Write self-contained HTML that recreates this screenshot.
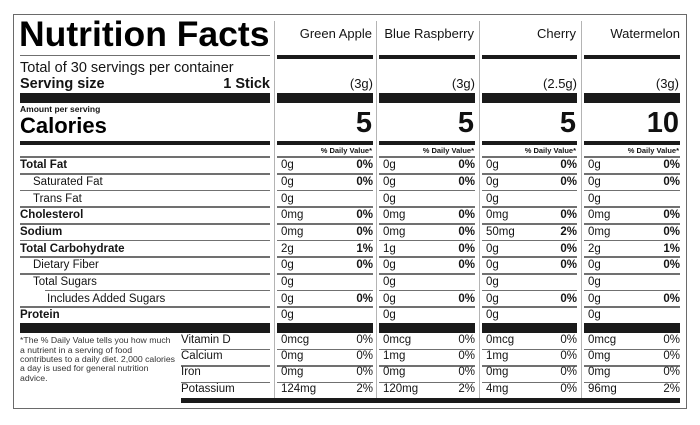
<!DOCTYPE html>
<html><head><meta charset="utf-8"><style>
*{margin:0;padding:0;box-sizing:border-box}
body{width:700px;height:425px;background:#fff;position:relative;overflow:hidden;font-family:"Liberation Sans",Arial,sans-serif;color:#141414}
.t{position:absolute;line-height:1;white-space:nowrap}
.bar{position:absolute;background:#1a1a1a}
.ln{position:absolute;height:1.5px;background:#707070}
.vs{position:absolute;width:1px;background:#b4b4b4;top:21px;height:377px}
.r{position:absolute;left:0;width:700px;height:12px;font-size:11.5px;line-height:1}
.r span{position:absolute;top:0;white-space:nowrap}
.b{font-weight:bold}
.p1{left:277px;width:96px;text-align:right}
.p2{left:379px;width:96px;text-align:right}
.p3{left:482px;width:95px;text-align:right}
.p4{left:584px;width:96px;text-align:right}
.v1{left:281px}.v2{left:383px}.v3{left:486px}.v4{left:588px}
.pb{font-weight:bold}
</style></head><body>
<div style="position:absolute;left:13px;top:14px;width:674px;height:395px;border:1.5px solid #6a6a6a"></div>

<!-- vertical separators -->
<div class="vs" style="left:273.5px"></div>
<div class="vs" style="left:376px"></div>
<div class="vs" style="left:478.5px"></div>
<div class="vs" style="left:580.5px"></div>

<!-- left header -->
<div class="t b" style="left:19px;top:17px;font-size:35.5px;color:#000">Nutrition Facts</div>
<div class="ln" style="left:20px;width:250px;top:54.5px"></div>
<div class="t" style="left:20px;top:61.3px;font-size:14.5px">Total of 30 servings per container</div>
<div class="t b" style="left:20px;top:76.8px;font-size:14.5px">Serving size</div>
<div class="t b" style="left:150px;width:120px;text-align:right;top:76.8px;font-size:14.5px">1 Stick</div>
<div class="bar" style="left:20px;width:250px;top:93px;height:10px"></div>
<div class="t b" style="left:20px;top:105.3px;font-size:8.5px">Amount per serving</div>
<div class="t b" style="left:20px;top:115.4px;font-size:22px;color:#000">Calories</div>
<div class="bar" style="left:20px;width:250px;top:141px;height:4px"></div>

<!-- column headers -->
<div class="t" style="left:277px;width:95px;text-align:right;top:27px;font-size:13px">Green Apple</div>
<div class="t" style="left:379px;width:95px;text-align:right;top:27px;font-size:13px">Blue Raspberry</div>
<div class="t" style="left:482px;width:94px;text-align:right;top:27px;font-size:13px">Cherry</div>
<div class="t" style="left:584px;width:96px;text-align:right;top:27px;font-size:13px">Watermelon</div>

<div class="bar" style="left:277px;width:96px;top:55px;height:4px"></div>
<div class="bar" style="left:379px;width:96px;top:55px;height:4px"></div>
<div class="bar" style="left:482px;width:95px;top:55px;height:4px"></div>
<div class="bar" style="left:584px;width:96px;top:55px;height:4px"></div>

<div class="t" style="left:277px;width:96px;text-align:right;top:77px;font-size:13px">(3g)</div>
<div class="t" style="left:379px;width:96px;text-align:right;top:77px;font-size:13px">(3g)</div>
<div class="t" style="left:482px;width:95px;text-align:right;top:77px;font-size:13px">(2.5g)</div>
<div class="t" style="left:584px;width:95px;text-align:right;top:77px;font-size:13px">(3g)</div>

<div class="bar" style="left:277px;width:96px;top:93px;height:10px"></div>
<div class="bar" style="left:379px;width:96px;top:93px;height:10px"></div>
<div class="bar" style="left:482px;width:95px;top:93px;height:10px"></div>
<div class="bar" style="left:584px;width:96px;top:93px;height:10px"></div>

<div class="t b" style="left:277px;width:95px;text-align:right;top:108.5px;font-size:29px;color:#111">5</div>
<div class="t b" style="left:379px;width:95px;text-align:right;top:108.5px;font-size:29px;color:#111">5</div>
<div class="t b" style="left:482px;width:94px;text-align:right;top:108.5px;font-size:29px;color:#111">5</div>
<div class="t b" style="left:584px;width:95px;text-align:right;top:108.5px;font-size:29px;color:#111">10</div>

<div class="bar" style="left:277px;width:96px;top:141px;height:4px"></div>
<div class="bar" style="left:379px;width:96px;top:141px;height:4px"></div>
<div class="bar" style="left:482px;width:95px;top:141px;height:4px"></div>
<div class="bar" style="left:584px;width:96px;top:141px;height:4px"></div>

<div class="t b" style="left:277px;width:95px;text-align:right;top:146.8px;font-size:7.5px">% Daily Value*</div>
<div class="t b" style="left:379px;width:95px;text-align:right;top:146.8px;font-size:7.5px">% Daily Value*</div>
<div class="t b" style="left:482px;width:94px;text-align:right;top:146.8px;font-size:7.5px">% Daily Value*</div>
<div class="t b" style="left:584px;width:95px;text-align:right;top:146.8px;font-size:7.5px">% Daily Value*</div>

<!-- row lines (left) -->
<div class="ln" style="left:20px;width:250px;top:156.3px"></div>
<div class="ln" style="left:20px;width:250px;top:173px"></div>
<div class="ln" style="left:20px;width:250px;top:189.6px"></div>
<div class="ln" style="left:20px;width:250px;top:206.3px"></div>
<div class="ln" style="left:20px;width:250px;top:223px"></div>
<div class="ln" style="left:20px;width:250px;top:239.6px"></div>
<div class="ln" style="left:20px;width:250px;top:256.3px"></div>
<div class="ln" style="left:20px;width:250px;top:273px"></div>
<div class="ln" style="left:45px;width:225px;top:289.6px"></div>
<div class="ln" style="left:20px;width:250px;top:306.3px"></div>

<!-- row lines (columns) -->
<div style="position:absolute;left:0;top:0">
<div class="ln" style="left:277px;width:96px;top:156.3px"></div><div class="ln" style="left:379px;width:96px;top:156.3px"></div><div class="ln" style="left:482px;width:95px;top:156.3px"></div><div class="ln" style="left:584px;width:96px;top:156.3px"></div>
<div class="ln" style="left:277px;width:96px;top:173px"></div><div class="ln" style="left:379px;width:96px;top:173px"></div><div class="ln" style="left:482px;width:95px;top:173px"></div><div class="ln" style="left:584px;width:96px;top:173px"></div>
<div class="ln" style="left:277px;width:96px;top:189.6px"></div><div class="ln" style="left:379px;width:96px;top:189.6px"></div><div class="ln" style="left:482px;width:95px;top:189.6px"></div><div class="ln" style="left:584px;width:96px;top:189.6px"></div>
<div class="ln" style="left:277px;width:96px;top:206.3px"></div><div class="ln" style="left:379px;width:96px;top:206.3px"></div><div class="ln" style="left:482px;width:95px;top:206.3px"></div><div class="ln" style="left:584px;width:96px;top:206.3px"></div>
<div class="ln" style="left:277px;width:96px;top:223px"></div><div class="ln" style="left:379px;width:96px;top:223px"></div><div class="ln" style="left:482px;width:95px;top:223px"></div><div class="ln" style="left:584px;width:96px;top:223px"></div>
<div class="ln" style="left:277px;width:96px;top:239.6px"></div><div class="ln" style="left:379px;width:96px;top:239.6px"></div><div class="ln" style="left:482px;width:95px;top:239.6px"></div><div class="ln" style="left:584px;width:96px;top:239.6px"></div>
<div class="ln" style="left:277px;width:96px;top:256.3px"></div><div class="ln" style="left:379px;width:96px;top:256.3px"></div><div class="ln" style="left:482px;width:95px;top:256.3px"></div><div class="ln" style="left:584px;width:96px;top:256.3px"></div>
<div class="ln" style="left:277px;width:96px;top:273px"></div><div class="ln" style="left:379px;width:96px;top:273px"></div><div class="ln" style="left:482px;width:95px;top:273px"></div><div class="ln" style="left:584px;width:96px;top:273px"></div>
<div class="ln" style="left:277px;width:96px;top:289.6px"></div><div class="ln" style="left:379px;width:96px;top:289.6px"></div><div class="ln" style="left:482px;width:95px;top:289.6px"></div><div class="ln" style="left:584px;width:96px;top:289.6px"></div>
<div class="ln" style="left:277px;width:96px;top:306.3px"></div><div class="ln" style="left:379px;width:96px;top:306.3px"></div><div class="ln" style="left:482px;width:95px;top:306.3px"></div><div class="ln" style="left:584px;width:96px;top:306.3px"></div>
</div>

<!-- rows -->
<div class="r" style="top:160.3px"><span class="b" style="left:20px">Total Fat</span>
<span class="v1">0g</span><span class="p1 pb">0%</span><span class="v2">0g</span><span class="p2 pb">0%</span><span class="v3">0g</span><span class="p3 pb">0%</span><span class="v4">0g</span><span class="p4 pb">0%</span></div>
<div class="r" style="top:177px"><span style="left:33px">Saturated Fat</span>
<span class="v1">0g</span><span class="p1 pb">0%</span><span class="v2">0g</span><span class="p2 pb">0%</span><span class="v3">0g</span><span class="p3 pb">0%</span><span class="v4">0g</span><span class="p4 pb">0%</span></div>
<div class="r" style="top:193.6px"><span style="left:33px">Trans Fat</span>
<span class="v1">0g</span><span class="v2">0g</span><span class="v3">0g</span><span class="v4">0g</span></div>
<div class="r" style="top:210.3px"><span class="b" style="left:20px">Cholesterol</span>
<span class="v1">0mg</span><span class="p1 pb">0%</span><span class="v2">0mg</span><span class="p2 pb">0%</span><span class="v3">0mg</span><span class="p3 pb">0%</span><span class="v4">0mg</span><span class="p4 pb">0%</span></div>
<div class="r" style="top:227px"><span class="b" style="left:20px">Sodium</span>
<span class="v1">0mg</span><span class="p1 pb">0%</span><span class="v2">0mg</span><span class="p2 pb">0%</span><span class="v3">50mg</span><span class="p3 pb">2%</span><span class="v4">0mg</span><span class="p4 pb">0%</span></div>
<div class="r" style="top:243.6px"><span class="b" style="left:20px">Total Carbohydrate</span>
<span class="v1">2g</span><span class="p1 pb">1%</span><span class="v2">1g</span><span class="p2 pb">0%</span><span class="v3">0g</span><span class="p3 pb">0%</span><span class="v4">2g</span><span class="p4 pb">1%</span></div>
<div class="r" style="top:260.3px"><span style="left:33px">Dietary Fiber</span>
<span class="v1">0g</span><span class="p1 pb">0%</span><span class="v2">0g</span><span class="p2 pb">0%</span><span class="v3">0g</span><span class="p3 pb">0%</span><span class="v4">0g</span><span class="p4 pb">0%</span></div>
<div class="r" style="top:277px"><span style="left:33px">Total Sugars</span>
<span class="v1">0g</span><span class="v2">0g</span><span class="v3">0g</span><span class="v4">0g</span></div>
<div class="r" style="top:293.6px"><span style="left:47px">Includes Added Sugars</span>
<span class="v1">0g</span><span class="p1 pb">0%</span><span class="v2">0g</span><span class="p2 pb">0%</span><span class="v3">0g</span><span class="p3 pb">0%</span><span class="v4">0g</span><span class="p4 pb">0%</span></div>
<div class="r" style="top:310.3px"><span class="b" style="left:20px">Protein</span>
<span class="v1">0g</span><span class="v2">0g</span><span class="v3">0g</span><span class="v4">0g</span></div>

<!-- thick bars before vitamins -->
<div class="bar" style="left:20px;width:250px;top:323px;height:10px"></div>
<div class="bar" style="left:277px;width:96px;top:323px;height:10px"></div>
<div class="bar" style="left:379px;width:96px;top:323px;height:10px"></div>
<div class="bar" style="left:482px;width:95px;top:323px;height:10px"></div>
<div class="bar" style="left:584px;width:96px;top:323px;height:10px"></div>

<!-- footnote -->
<div style="position:absolute;left:20px;top:336.4px;font-size:8.7px;line-height:9.3px;color:#333;white-space:nowrap">*The % Daily Value tells you how much<br>a nutrient in a serving of food<br>contributes to a daily diet. 2,000 calories<br>a day is used for general nutrition<br>advice.</div>

<!-- vitamin lines -->
<div class="ln" style="left:181px;width:89px;top:348.8px"></div>
<div class="ln" style="left:181px;width:89px;top:365.3px"></div>
<div class="ln" style="left:181px;width:89px;top:381.8px"></div>
<div class="ln" style="left:277px;width:96px;top:348.8px"></div><div class="ln" style="left:379px;width:96px;top:348.8px"></div><div class="ln" style="left:482px;width:95px;top:348.8px"></div><div class="ln" style="left:584px;width:96px;top:348.8px"></div>
<div class="ln" style="left:277px;width:96px;top:365.3px"></div><div class="ln" style="left:379px;width:96px;top:365.3px"></div><div class="ln" style="left:482px;width:95px;top:365.3px"></div><div class="ln" style="left:584px;width:96px;top:365.3px"></div>
<div class="ln" style="left:277px;width:96px;top:381.8px"></div><div class="ln" style="left:379px;width:96px;top:381.8px"></div><div class="ln" style="left:482px;width:95px;top:381.8px"></div><div class="ln" style="left:584px;width:96px;top:381.8px"></div>

<!-- vitamin rows -->
<div class="r" style="top:334.8px"><span style="left:181px">Vitamin D</span>
<span class="v1">0mcg</span><span class="p1">0%</span><span class="v2">0mcg</span><span class="p2">0%</span><span class="v3">0mcg</span><span class="p3">0%</span><span class="v4">0mcg</span><span class="p4">0%</span></div>
<div class="r" style="top:351.1px"><span style="left:181px">Calcium</span>
<span class="v1">0mg</span><span class="p1">0%</span><span class="v2">1mg</span><span class="p2">0%</span><span class="v3">1mg</span><span class="p3">0%</span><span class="v4">0mg</span><span class="p4">0%</span></div>
<div class="r" style="top:367.4px"><span style="left:181px">Iron</span>
<span class="v1">0mg</span><span class="p1">0%</span><span class="v2">0mg</span><span class="p2">0%</span><span class="v3">0mg</span><span class="p3">0%</span><span class="v4">0mg</span><span class="p4">0%</span></div>
<div class="r" style="top:383.7px"><span style="left:181px">Potassium</span>
<span class="v1">124mg</span><span class="p1">2%</span><span class="v2">120mg</span><span class="p2">2%</span><span class="v3">4mg</span><span class="p3">0%</span><span class="v4">96mg</span><span class="p4">2%</span></div>

<!-- bottom bar -->
<div class="bar" style="left:181px;width:499px;top:398px;height:5px"></div>
</body></html>
